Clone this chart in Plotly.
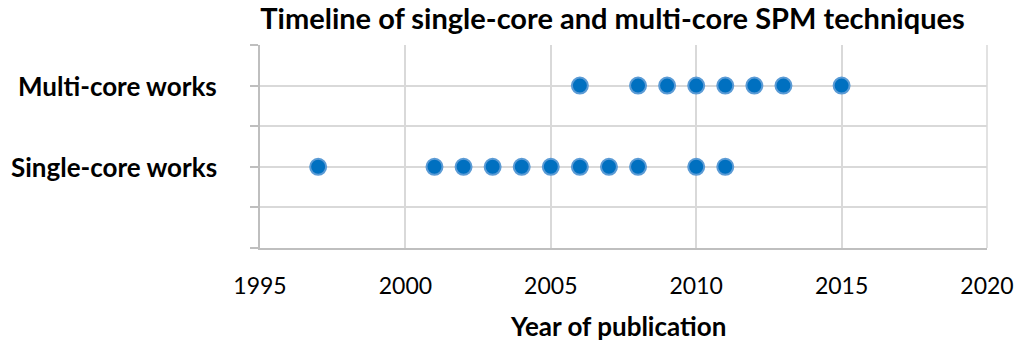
import plotly.graph_objects as go

multi_years = [2006, 2008, 2009, 2010, 2011, 2012, 2013, 2015]
single_years = [1997, 2001, 2002, 2003, 2004, 2005, 2006, 2007, 2008, 2010, 2011]
row_labels = ["Single-core works", "Multi-core works"]
row_values = [1, 2]
x_ticks = [1995, 2000, 2005, 2010, 2015, 2020]
y_grid = [0, 0.5, 1, 1.5, 2, 2.5]

FONT = "Lato"
W, H = 1026, 345

fig = go.Figure()
marker = dict(size=16, color="#0070C0", line=dict(color="#5B9BD5", width=2))
fig.add_trace(go.Scatter(x=single_years, y=[row_values[0]] * len(single_years),
                         mode="markers", marker=marker, showlegend=False, cliponaxis=False))
fig.add_trace(go.Scatter(x=multi_years, y=[row_values[1]] * len(multi_years),
                         mode="markers", marker=marker, showlegend=False, cliponaxis=False))

for lab, v in zip(row_labels, row_values):
    fig.add_annotation(x=0, xref="paper", xanchor="right", xshift=-41, y=v, yref="y",
                       yanchor="middle", text=f"<b>{lab}</b>", showarrow=False,
                       font=dict(family=FONT, size=26, color="black"))

fig.add_annotation(x=(622 - 260) / 736, xref="paper", xanchor="center", y=0, yref="paper",
                   yanchor="middle", yshift=-(326 - 248), text="<b>Year of publication</b>",
                   showarrow=False, font=dict(family=FONT, size=26, color="black"))

fig.update_layout(
    width=W, height=H,
    margin=dict(l=260, r=30, t=45, b=97),
    plot_bgcolor="white", paper_bgcolor="white",
    title=dict(text="<b>Timeline of single-core and multi-core SPM techniques</b>",
               x=612.5 / W, xanchor="center", y=1 - 19 / H, yref="container",
               yanchor="middle", font=dict(family=FONT, size=29, color="black")),
    xaxis=dict(range=[1995, 2020], tickvals=x_ticks, showgrid=True, gridcolor="#D9D9D9",
               gridwidth=1.5, zeroline=False, showline=True, linecolor="#BFBFBF", linewidth=1.5,
               ticks="", ticklabelstandoff=17,
               tickfont=dict(family=FONT, size=23, color="black")),
    yaxis=dict(range=[0, 2.5], tickvals=y_grid, showticklabels=False, showgrid=True,
               gridcolor="#D9D9D9", gridwidth=1.5, zeroline=False, showline=True,
               linecolor="#BFBFBF", linewidth=1.5, ticks="outside", ticklen=8,
               tickcolor="#BFBFBF", tickwidth=1.5),
)
fig.add_shape(type="line", xref="paper", yref="paper", x0=1, x1=1, y0=0, y1=1,
              line=dict(color="#D9D9D9", width=1.5))
fig.write_html("out.html", config={"displayModeBar": False},
               post_script="document.body.style.margin='0px';document.body.style.overflow='hidden';")
